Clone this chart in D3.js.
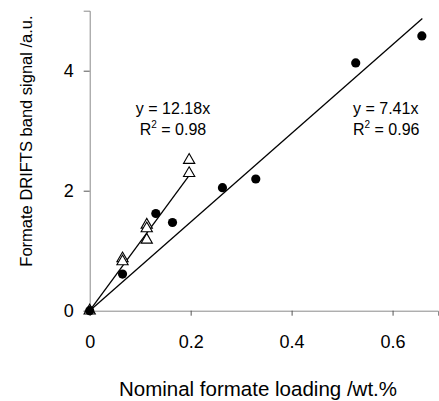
<!DOCTYPE html>
<html>
<head>
<meta charset="utf-8">
<script src="https://cdn.jsdelivr.net/npm/d3@7"></script>
<style>
  body { margin: 0; background: #fff; }
  text { font-family: "Liberation Sans", Arial, sans-serif; fill: #000; }
</style>
</head>
<body>
<svg id="chart" width="439" height="401"></svg>
<script>
// Data
const circleX = [0, 0.065, 0.131, 0.164, 0.263, 0.329, 0.527, 0.658];
const circleY = [0, 0.61, 1.62, 1.47, 2.05, 2.195, 4.13, 4.58];
const triX = [0, 0.065, 0.065, 0.113, 0.113, 0.113, 0.197, 0.197];
const triY = [0, 0.87, 0.82, 1.43, 1.37, 1.18, 2.51, 2.29];

// Fitted lines (end points)
const triFitX = [0, 0.195];
const triFitY = [0, 2.23];
const circFitX = [0, 0.659];
const circFitY = [0, 4.87];

const xTicks = [0, 0.2, 0.4, 0.6];
const xTickLabels = ["0", "0.2", "0.4", "0.6"];
const yTicks = [0, 2, 4];
const yTickLabels = ["0", "2", "4"];

const svg = d3.select("#chart");

const x = d3.scaleLinear().domain([0, 0.69]).range([89.7, 438]);
const y = d3.scaleLinear().domain([0, 5]).range([310.7, 10.7]);

// Axes
const xAxis = svg.append("g")
    .attr("transform", `translate(0,${y(0)})`)
    .call(d3.axisBottom(x).tickValues(xTicks).tickFormat((d, i) => xTickLabels[i]).tickSizeOuter(0).tickSize(5).tickPadding(20));
const yAxis = svg.append("g")
    .attr("transform", `translate(${x(0)},0)`)
    .call(d3.axisLeft(y).tickValues(yTicks).tickFormat((d, i) => yTickLabels[i]).tickSizeOuter(0).tickSize(6).tickPadding(10));

[xAxis, yAxis].forEach(a => {
    a.select(".domain").attr("stroke", "#8a8a8a");
    a.selectAll(".tick line").attr("stroke", "#555");
    a.selectAll(".tick text")
        .style("font-family", "'Liberation Sans', Arial, sans-serif")
        .style("font-size", "18px")
        .attr("fill", "#000");
});

// Axis titles
svg.append("text")
    .attr("x", 258)
    .attr("y", 396)
    .attr("text-anchor", "middle")
    .style("font-size", "20.5px")
    .text("Nominal formate loading /wt.%");

svg.append("text")
    .attr("transform", "rotate(-90)")
    .attr("x", -141)
    .attr("y", 32)
    .attr("text-anchor", "middle")
    .style("font-size", "16.5px")
    .text("Formate DRIFTS band signal /a.u.");

// Fit lines
const line = d3.line().x(d => x(d[0])).y(d => y(d[1]));
svg.append("path")
    .datum(circFitX.map((v, i) => [v, circFitY[i]]))
    .attr("d", line)
    .attr("fill", "none")
    .attr("stroke", "#000")
    .attr("stroke-width", 1.3);
svg.append("path")
    .datum(triFitX.map((v, i) => [v, triFitY[i]]))
    .attr("d", line)
    .attr("fill", "none")
    .attr("stroke", "#000")
    .attr("stroke-width", 1.3);

// Triangles (open)
const tri = d3.symbol().type(d3.symbolTriangle).size(55);
svg.selectAll(".tri")
    .data(triX.map((v, i) => [v, triY[i]]))
    .enter().append("path")
    .attr("class", "tri")
    .attr("d", tri)
    .attr("transform", d => `translate(${x(d[0])},${y(d[1])})`)
    .attr("fill", "#fff")
    .attr("stroke", "#000")
    .attr("stroke-width", 1.1);

// Circles (filled)
svg.selectAll(".dot")
    .data(circleX.map((v, i) => [v, circleY[i]]))
    .enter().append("circle")
    .attr("class", "dot")
    .attr("cx", d => x(d[0]))
    .attr("cy", d => y(d[1]))
    .attr("r", 4.6)
    .attr("fill", "#000");

// Equation labels
function eqLabel(px, py, anchor, eq, r2) {
    svg.append("text")
        .attr("x", px).attr("y", py)
        .attr("text-anchor", anchor)
        .style("font-size", "16px")
        .text(eq);
    const t = svg.append("text")
        .attr("x", px).attr("y", py + 21)
        .attr("text-anchor", anchor)
        .style("font-size", "16px");
    t.append("tspan").text("R");
    t.append("tspan").attr("dy", -7).style("font-size", "10px").text("2");
    t.append("tspan").attr("dy", 7).text(" = " + r2);
}
eqLabel(173, 114, "middle", "y = 12.18x", "0.98");
eqLabel(353, 114, "start", "y = 7.41x", "0.96");
</script>
</body>
</html>
